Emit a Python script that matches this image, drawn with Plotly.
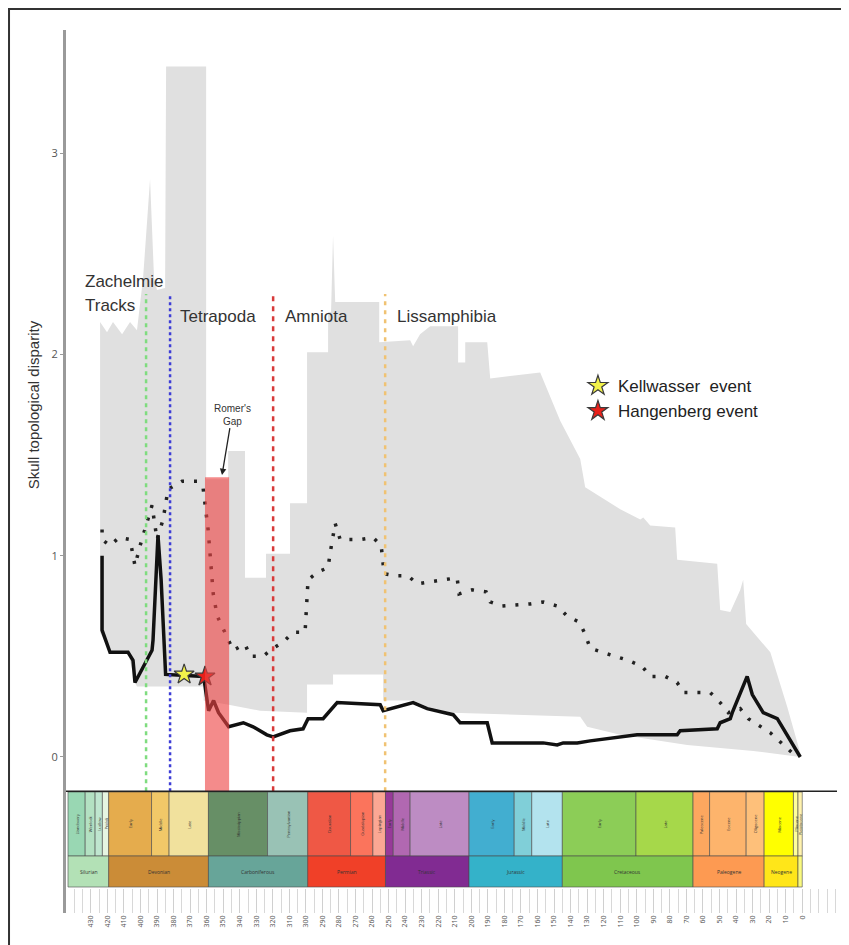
import plotly.graph_objects as go

# ---------------- data (ages in Ma, values = skull topological disparity) ----------------
median_age = [423.2, 423.2, 418.4, 407.5, 404.5, 403.3, 393.0, 392.4, 389.4, 387.5, 384.8,
              361.8, 358.8, 355.8, 352.8, 346.7, 337.8, 331.9, 323.6, 319.8, 309.6, 301.7,
              298.7, 289.6, 281.1, 255.1, 253.3, 235.2, 226.7, 211.0, 206.8, 190.4, 187.4,
              156.6, 148.1, 144.5, 136.0, 128.2, 99.8, 75.6, 73.8, 51.4, 49.6, 43.5, 42.3,
              33.3, 30.2, 23.6, 15.1, 1.2]
median_val = [1.00, 0.63, 0.52, 0.52, 0.48, 0.37, 0.53, 0.58, 1.10, 0.88, 0.41,
              0.40, 0.23, 0.28, 0.22, 0.15, 0.17, 0.15, 0.11, 0.10, 0.13, 0.14,
              0.19, 0.19, 0.27, 0.26, 0.23, 0.27, 0.24, 0.21, 0.17, 0.17, 0.07,
              0.07, 0.06, 0.07, 0.07, 0.08, 0.11, 0.11, 0.13, 0.14, 0.17, 0.19, 0.22,
              0.40, 0.31, 0.22, 0.19, 0.00]

mean_age = [423.2, 423.2, 418.4, 412.9, 406.3, 403.3, 400.2, 395.4, 393.0, 390.0, 386.3,
            383.3, 374.8, 365.8, 362.2, 359.1, 356.0, 353.6, 347.6, 343.9, 336.8, 333.7,
            325.9, 319.8, 313.8, 307.7, 300.5, 299.3, 298.7, 292.6, 286.6, 285.4, 282.3,
            279.3, 267.2, 259.4, 254.5, 252.7, 246.1, 238.2, 232.8, 224.9, 208.6, 207.4,
            199.5, 191.1, 188.6, 181.4, 164.4, 156.6, 148.1, 142.1, 134.8, 131.2, 128.2,
            120.9, 112.5, 105.2, 96.7, 91.9, 82.8, 75.6, 71.9, 55.6, 49.6, 44.7, 37.5,
            32.6, 19.3, 6.0, 1.2]
mean_val = [1.13, 1.08, 1.05, 1.09, 1.08, 0.95, 1.05, 1.18, 1.25, 1.08, 1.18,
            1.33, 1.37, 1.37, 1.34, 1.13, 0.81, 0.70, 0.60, 0.53, 0.56, 0.50,
            0.50, 0.54, 0.57, 0.62, 0.62, 0.76, 0.88, 0.92, 0.94, 1.01, 1.16,
            1.08, 1.08, 1.09, 1.05, 0.91, 0.90, 0.90, 0.86, 0.87, 0.89, 0.81,
            0.83, 0.82, 0.77, 0.75, 0.76, 0.77, 0.75, 0.70, 0.67, 0.61, 0.54,
            0.52, 0.50, 0.48, 0.45, 0.40, 0.40, 0.37, 0.32, 0.32, 0.27, 0.22, 0.24,
            0.19, 0.12, 0.02, 0.01]

env_upper_age = [424.4, 420.2, 416.6, 411.1, 406.3, 402.1, 398.4, 394.2, 391.8, 390.0, 385.1,
                 384.5, 360.3, 360.3, 347.0, 347.0, 336.8, 336.8, 324.1, 324.1, 309.6, 309.6,
                 299.3, 299.3, 286.6, 286.6, 284.8, 283.6, 282.3, 255.7, 255.7, 237.0, 235.2,
                 231.0, 224.9, 208.0, 208.0, 203.7, 203.7, 190.4, 188.6, 158.4, 146.3, 134.2,
                 131.2, 110.0, 97.9, 96.1, 91.9, 76.8, 75.6, 51.4, 49.6, 43.5, 37.5, 35.7,
                 33.9, 19.3, 9.1, 1.2]
env_upper_val = [2.16, 2.11, 2.16, 2.10, 2.16, 2.12, 2.38, 2.87, 2.38, 2.32, 2.33,
                 3.43, 3.43, 1.38, 1.38, 1.52, 1.52, 0.89, 0.89, 1.01, 1.01, 1.26,
                 1.26, 2.01, 2.01, 2.21, 2.21, 2.59, 2.26, 2.26, 2.06, 2.07, 2.04,
                 2.10, 2.14, 2.14, 1.96, 1.96, 2.06, 2.06, 1.88, 1.91, 1.67, 1.48,
                 1.34, 1.23, 1.18, 1.19, 1.15, 1.14, 0.98, 0.96, 0.73, 0.72, 0.83, 0.88,
                 0.66, 0.52, 0.25, 0.02]
env_lower_age = [424.4, 418.4, 407.5, 403.3, 402.1, 361.8, 361.8, 346.7, 327.7, 299.3, 299.3,
                 283.6, 283.6, 253.3, 253.3, 235.2, 226.7, 211.0, 134.2, 130.0, 110.0, 69.5,
                 29.6, 1.2]
env_lower_val = [0.62, 0.52, 0.52, 0.37, 0.35, 0.35, 0.28, 0.26, 0.23, 0.22, 0.36,
                 0.36, 0.41, 0.41, 0.28, 0.28, 0.25, 0.22, 0.20, 0.15, 0.11, 0.06,
                 0.03, 0.00]

event_names = ["Zachelmie\nTracks", "Tetrapoda", "Amniota", "Lissamphibia"]
event_ages = [396.6, 382.1, 319.8, 252.1]
event_label_ages = [434.7, 377.3, 313.8, 246.1]
event_colors = ["#7fdc7f", "#3d3dd6", "#d83a3a", "#f0c272"]
event_dashes = ["4px,4px", "3px,3px", "5px,5px", "4px,5px"]
event_line_top = 2.30

romer_gap_ages = [361.0, 346.4]
romer_gap_top = 1.39

extinction_names = ["Kellwasser  event", "Hangenberg event"]
extinction_ages = [373.6, 361.0]
extinction_vals = [0.41, 0.40]
extinction_colors = ["#f2f24a", "#e8201a"]

period_names = ["Silurian", "Devonian", "Carboniferous", "Permian", "Triassic", "Jurassic",
                "Cretaceous", "Paleogene", "Neogene", "Quaternary"]
period_bounds = [443.8, 419.2, 358.9, 298.9, 251.9, 201.4, 145.0, 66.0, 23.03, 2.58, 0.0]
period_colors = ["#B3E1B6", "#CB8C37", "#67A599", "#F04028", "#812B92", "#34B2C9",
                 "#7FC64E", "#FD9A52", "#FFE619", "#F9F97F"]

epoch_names = ["Llandovery", "Wenlock", "Ludlow", "Pridoli", "Early", "Middle", "Late",
               "Mississippian", "Pennsylvanian", "Cisuralian", "Guadalupian", "Lopingian",
               "Early", "Middle", "Late", "Early", "Middle", "Late", "Early", "Late",
               "Paleocene", "Eocene", "Oligocene", "Miocene", "Pliocene", "Pleistocene"]
epoch_bounds = [443.8, 433.4, 427.4, 423.0, 419.2, 393.3, 382.7, 358.9, 323.2, 298.9, 273.01,
                259.51, 251.9, 247.2, 237.0, 201.4, 174.1, 163.5, 145.0, 100.5, 66.0, 56.0,
                33.9, 23.03, 5.333, 2.58, 0.0]
epoch_colors = ["#99D7B3", "#B3E1C2", "#BFE6CF", "#E6F5E1", "#E5AC4D", "#F1C868", "#F1E19D",
                "#678F66", "#99C2B5", "#EF5845", "#FB745C", "#FBA794", "#983999", "#B168B1",
                "#BD8CC3", "#42AED0", "#80CFD8", "#B3E3EE", "#8CCD57", "#A6D84A", "#FDA75F",
                "#FDB46C", "#FEC07A", "#FFFF00", "#FFFF99", "#FFF2AE"]

y_ticks = [0, 1, 2, 3]
x_tick_ages = list(range(0, 440, 10))

# layout constants (axis units)
X_RANGE = [445, -21]
Y_RANGE = [-0.775, 3.611]
AXIS_LINE_Y = -0.170
EPOCH_ROW = [-0.492, -0.174]
PERIOD_ROW = [-0.646, -0.492]

fig = go.Figure()

# envelope
fig.add_trace(go.Scatter(
    x=env_upper_age + env_lower_age[::-1],
    y=env_upper_val + env_lower_val[::-1],
    fill="toself", fillcolor="#e0e0e0", line=dict(width=0),
    mode="lines", hoverinfo="skip", showlegend=False))

# dotted series
fig.add_trace(go.Scatter(x=mean_age, y=mean_val, mode="lines",
                         line=dict(color="#222222", width=3.5, dash="3px,10px"),
                         showlegend=False, name="mean"))
# solid series
fig.add_trace(go.Scatter(x=median_age, y=median_val, mode="lines",
                         line=dict(color="#111111", width=3.5),
                         showlegend=False, name="observed"))

# event lines
for age, col, dsh in zip(event_ages, event_colors, event_dashes):
    fig.add_trace(go.Scatter(x=[age, age], y=[AXIS_LINE_Y, event_line_top], mode="lines",
                             line=dict(color=col, width=2.5, dash=dsh),
                             hoverinfo="skip", showlegend=False))

# extinction stars
for name, age, val, col in zip(extinction_names, extinction_ages, extinction_vals, extinction_colors):
    fig.add_trace(go.Scatter(x=[age], y=[val], mode="markers", name=name,
                             marker=dict(symbol="star", size=15, color=col,
                                         line=dict(color="#3a3a3a", width=1.2))))

shapes = []
# Romer's gap
shapes.append(dict(type="rect", xref="x", yref="y", x0=romer_gap_ages[0], x1=romer_gap_ages[1],
                   y0=AXIS_LINE_Y, y1=romer_gap_top, fillcolor="rgba(238,68,68,0.62)",
                   line=dict(width=0), layer="above"))
# geological scale
for i, col in enumerate(epoch_colors):
    shapes.append(dict(type="rect", xref="x", yref="y", x0=epoch_bounds[i], x1=epoch_bounds[i + 1],
                       y0=EPOCH_ROW[0], y1=EPOCH_ROW[1], fillcolor=col,
                       line=dict(color="#4a4a4a", width=0.6), layer="above"))
for i, col in enumerate(period_colors):
    shapes.append(dict(type="rect", xref="x", yref="y", x0=period_bounds[i], x1=period_bounds[i + 1],
                       y0=PERIOD_ROW[0], y1=PERIOD_ROW[1], fillcolor=col,
                       line=dict(color="#4a4a4a", width=0.6), layer="above"))
# axis line above the scale
shapes.append(dict(type="line", xref="x", yref="y", x0=X_RANGE[0], x1=X_RANGE[1],
                   y0=AXIS_LINE_Y, y1=AXIS_LINE_Y, line=dict(color="#222222", width=1.5),
                   layer="above"))
# outer frame (top and left edges of the figure)
shapes.append(dict(type="rect", xref="paper", yref="paper", x0=-0.0739, x1=1.06, y0=-0.08, y1=1.0238,
                   line=dict(color="#333333", width=2), fillcolor="rgba(0,0,0,0)"))

annotations = []
for name, lab_age in zip(event_names, event_label_ages):
    for k, line in enumerate(name.split("\n")):
        multi = "\n" in name
        annotations.append(dict(x=lab_age, y=2.36 if multi else 2.19, xref="x", yref="y",
                                text=line, showarrow=False, xanchor="left", yanchor="middle",
                                yshift=-24 * k, font=dict(size=17, color="#333333",
                                                          family="Liberation Sans, Arial")))
annotations.append(dict(x=350.7, y=1.40, ax=344.6, ay=1.70, xref="x", yref="y", axref="x", ayref="y",
                        text="Romer's<br>Gap", showarrow=True, arrowhead=2, arrowsize=1,
                        arrowwidth=1.3, arrowcolor="#222222", standoff=0,
                        font=dict(size=10, color="#333333", family="Liberation Sans, Arial")))
for i, nm in enumerate(epoch_names):
    annotations.append(dict(x=(epoch_bounds[i] + epoch_bounds[i + 1]) / 2,
                            y=(EPOCH_ROW[0] + EPOCH_ROW[1]) / 2, xref="x", yref="y",
                            text=nm, showarrow=False, textangle=-90,
                            font=dict(size=4, color="#333333")))
for i, nm in enumerate(period_names[:-1]):
    annotations.append(dict(x=(period_bounds[i] + period_bounds[i + 1]) / 2,
                            y=(PERIOD_ROW[0] + PERIOD_ROW[1]) / 2, xref="x", yref="y",
                            text=nm, showarrow=False, font=dict(size=5, color="#333333")))
annotations.append(dict(x=-0.0428, y=0.575, xref="paper", yref="paper", xanchor="center",
                        yanchor="middle",
                        text="Skull topological disparity", showarrow=False, textangle=-90,
                        font=dict(size=15, color="#333333", family="Liberation Sans, Arial")))

fig.update_layout(
    width=841, height=937,
    margin=dict(l=58, r=12, t=22, b=32),
    paper_bgcolor="white", plot_bgcolor="white",
    shapes=shapes, annotations=annotations,
    legend=dict(x=0.664, y=0.617, xanchor="left", yanchor="top",
                font=dict(size=17, color="#222222", family="Liberation Sans, Arial"),
                bgcolor="rgba(0,0,0,0)", tracegroupgap=0),
    xaxis=dict(range=X_RANGE, showgrid=False, zeroline=False, showline=False,
               tickvals=x_tick_ages, ticktext=[str(a) for a in x_tick_ages],
               ticks="inside", ticklen=24, tickcolor="#d0d0d0", tickwidth=1,
               minor=dict(dtick=5, tick0=0, ticks="inside", ticklen=24, tickcolor="#d8d8d8"),
               tickangle=-90, tickfont=dict(size=7, color="#555555")),
    yaxis=dict(range=Y_RANGE, showgrid=False, zeroline=False, showline=True,
               linecolor="#9a9a9a", linewidth=3, tickvals=y_ticks,
               ticks="outside", ticklen=3, tickcolor="#9a9a9a",
               tickfont=dict(size=11, color="#555555")),
)

fig.write_html("out.html")
